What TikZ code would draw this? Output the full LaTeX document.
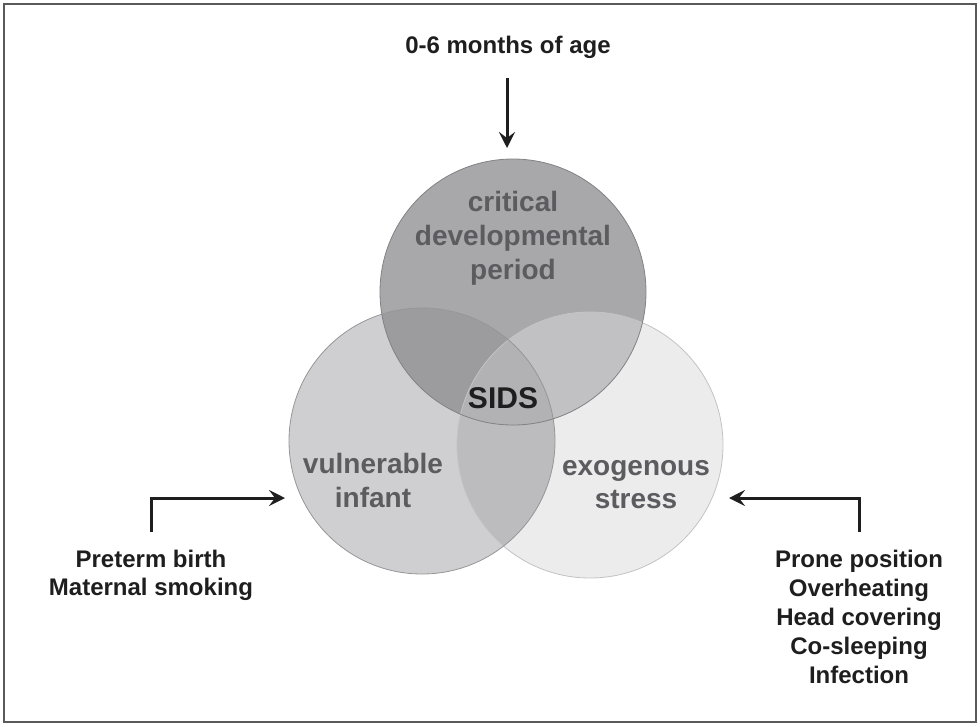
\documentclass[tikz,border=0pt]{standalone}
\usepackage{fontspec}
\setmainfont{Liberation Sans}
\usetikzlibrary{arrows.meta}
\definecolor{cT}{RGB}{168,168,171}
\definecolor{cL}{RGB}{207,207,209}
\definecolor{cR}{RGB}{236,236,237}
\definecolor{cTL}{RGB}{156,156,159}
\definecolor{cTR}{RGB}{193,193,196}
\definecolor{cLR}{RGB}{188,188,190}
\definecolor{cTLR}{RGB}{178,178,181}
\definecolor{oT}{RGB}{130,130,134}
\definecolor{oL}{RGB}{150,150,153}
\definecolor{oR}{RGB}{195,195,197}
\definecolor{lbl}{RGB}{92,92,96}
\definecolor{ink}{RGB}{30,30,30}
\definecolor{frame}{RGB}{90,90,90}
\begin{document}
\begin{tikzpicture}[x=1pt,y=-1pt,
  blacktext/.style={text=ink, font=\fontsize{24}{29}\selectfont\bfseries, align=center, anchor=base, inner sep=0pt},
  circtext/.style={text=lbl, font=\fontsize{28}{34}\selectfont\bfseries, align=center, anchor=base, inner sep=0pt},
  arr/.style={draw=ink, line width=3pt, -{Stealth[length=16pt,width=16pt,inset=6pt]}},
  venn/.style={circle, minimum size=266pt, inner sep=0pt}]
\useasboundingbox (0,0) rectangle (980,726);
\draw[frame, line width=1.5pt] (4,4) rectangle (976,722);
% region fills
\fill[cT] (513,292) circle (133pt);
\fill[cL] (422,441) circle (133pt);
\fill[cR] (590,445) circle (133pt);
\begin{scope}
  \clip (513,292) circle (133pt);
  \fill[cTL] (422,441) circle (133pt);
  \fill[cTR] (590,445) circle (133pt);
\end{scope}
\begin{scope}
  \clip (422,441) circle (133pt);
  \fill[cLR] (590,445) circle (133pt);
\end{scope}
\begin{scope}
  \clip (513,292) circle (133pt);
  \clip (422,441) circle (133pt);
  \fill[cTLR] (590,445) circle (133pt);
\end{scope}
% circle nodes (outlines)
\node[venn, draw=oR, line width=0.8pt] (rc) at (590,445) {};
\node[venn, draw=oL, line width=0.8pt] (lc) at (422,441) {};
\node[venn, draw=oT, line width=0.8pt] (tc) at (513,292) {};
% labels (base = baseline of last line)
\node[circtext] (tlab) at (513,279) {critical\\developmental\\period};
\node[circtext] (llab) at (373,507) {vulnerable\\infant};
\node[circtext, font=\fontsize{28}{33}\selectfont\bfseries] (rlab) at (636,508) {exogenous\\stress};
\node[text=ink, font=\fontsize{30}{36}\selectfont\bfseries, anchor=base, inner sep=0pt] (sids) at (503,408) {SIDS};
\node[blacktext] (title) at (508,53) {0-6 months of age};
\node[blacktext, font=\fontsize{24}{28}\selectfont\bfseries] (ltext) at (151,595) {Preterm birth\\Maternal smoking};
\node[blacktext] (rtext) at (859,683) {Prone position\\Overheating\\Head covering\\Co-sleeping\\Infection};
% connectors
\coordinate (ta) at (507,78);
\coordinate (tb) at (507,148);
\draw[arr] (ta) -- (tb);
\coordinate (la) at (151,532);
\coordinate (lb) at (285,498);
\draw[arr] (la) |- (lb);
\coordinate (ra) at (859,532);
\coordinate (rb) at (729,498);
\draw[arr] (ra) |- (rb);
\end{tikzpicture}
\end{document}
